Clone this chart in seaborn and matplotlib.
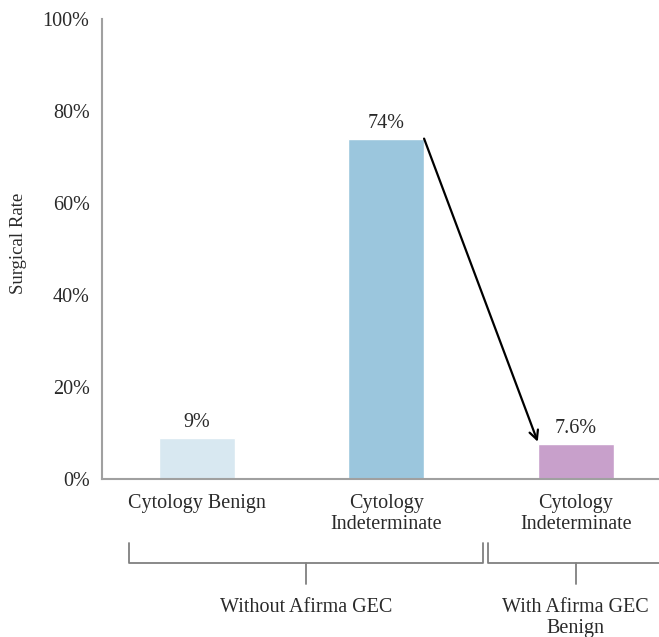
import matplotlib
matplotlib.use("Agg")
import matplotlib.pyplot as plt
import seaborn as sns
import pandas as pd
import matplotlib.transforms as mtrans

# Data
keys = ["benign", "indet_without", "indet_with"]
tick_labels = ["Cytology Benign", "Cytology\nIndeterminate", "Cytology\nIndeterminate"]
rates = [9, 74, 7.6]
value_labels = ["9%", "74%", "7.6%"]
colors = ["#d8e8f1", "#9bc6dd", "#c8a0cb"]
group_labels = ["Without Afirma GEC", "With Afirma GEC\nBenign"]

sns.set_theme(style="white")
plt.rcParams["font.family"] = ["Liberation Serif", "DejaVu Serif"]

df = pd.DataFrame({"key": keys, "rate": rates})

fig = plt.figure(figsize=(6.59, 6.37), dpi=100)
ax = fig.add_axes([102/659, 1-479/637, 1-102/659, (479-19)/637])

sns.barplot(data=df, x="key", y="rate", hue="key", palette=colors,
            order=keys, hue_order=keys, width=0.4, legend=False, ax=ax,
            saturation=1)

tc = "#2a2a2a"
fs = 14.5
ax.set_xlim(-0.5, 2.44)
ax.set_ylim(0, 100)
ax.set_yticks([0, 20, 40, 60, 80, 100])
ax.set_yticklabels([f"{v}%" for v in [0, 20, 40, 60, 80, 100]])
ax.set_xticks(range(3))
ax.set_xticklabels(tick_labels, linespacing=1.15)
ax.set_xticks([0.5, 1.5], minor=True)
ax.tick_params(axis="x", which="major", length=0, pad=11, labelsize=fs, labelcolor=tc)
ax.tick_params(axis="x", which="minor", length=5, width=1.2, color="#a0a0a0", direction="out")
ax.tick_params(axis="y", length=5, width=1.2, color="#a0a0a0", direction="out", labelsize=fs,
               labelcolor=tc, pad=4)
ax.set_xlabel("")
ax.set_ylabel("Surgical Rate", fontsize=13.5, color=tc)
ax.yaxis.set_label_coords(-0.135, 0.513)

for s in ["top", "right"]:
    ax.spines[s].set_visible(False)
for s in ["left", "bottom"]:
    ax.spines[s].set_color("#a0a0a0")
    ax.spines[s].set_linewidth(1.5)

# value labels
for i, (v, lab) in enumerate(zip(rates, value_labels)):
    ax.annotate(lab, (i, v), xytext=(0, 4), textcoords="offset points",
                ha="center", va="bottom", fontsize=fs, color=tc)

# arrow from top-right of bar 2 to top-left of bar 3
ax.annotate("", xy=(1.8, rates[2] + 0.5), xytext=(1.2, rates[1]),
            arrowprops=dict(arrowstyle="->", color="black", lw=1.6,
                            shrinkA=0, shrinkB=0, mutation_scale=16))

# group brackets
tr = mtrans.blended_transform_factory(ax.transData, ax.transAxes)
y_top, y_mid, y_stub = -0.139, -0.183, -0.228
lc = "#808080"
brackets = [(-0.357, 1.51, 0.577), (1.54, 2.47, 2.0)]
for (x0, x1, xm), glab in zip(brackets, group_labels):
    ax.plot([x0, x0, x1, x1], [y_top, y_mid, y_mid, y_top], color=lc, lw=1.3,
            transform=tr, clip_on=False)
    ax.plot([xm, xm], [y_mid, y_stub], color=lc, lw=1.3, transform=tr, clip_on=False)
    ax.text(xm, y_stub - 0.03, glab, transform=tr, ha="center", va="top",
            fontsize=fs, color=tc, linespacing=1.15)

fig.savefig("out.png", dpi=100)
